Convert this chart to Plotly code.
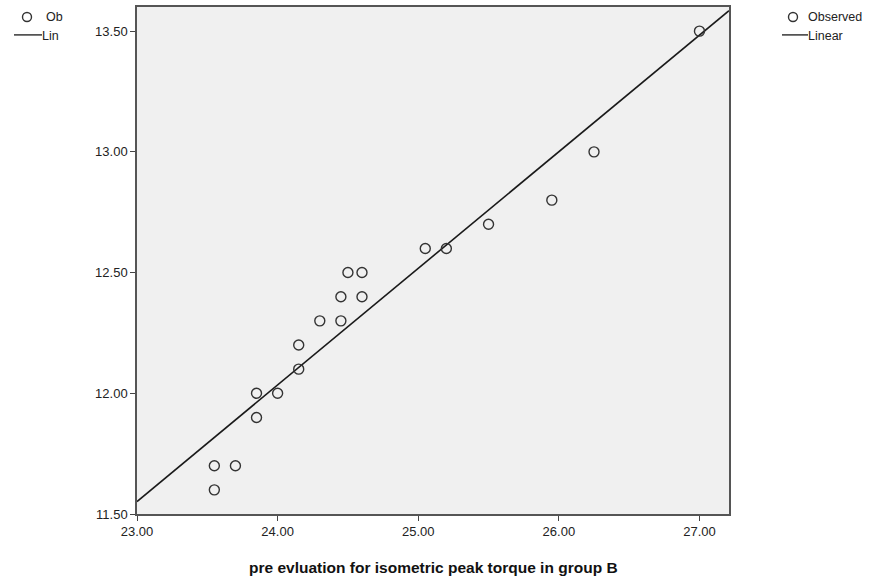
import numpy as np
import plotly.graph_objects as go

# Observed values: pre evaluation (x) vs. paired measure (y), group B
pre_torque = [23.55, 23.55, 23.70, 23.85, 23.85, 24.00, 24.15, 24.15, 24.30, 24.45,
              24.45, 24.50, 24.60, 24.60, 25.05, 25.20, 25.50, 25.95, 26.25, 27.00]
outcome = [11.70, 11.60, 11.70, 12.00, 11.90, 12.00, 12.20, 12.10, 12.30, 12.40,
           12.30, 12.50, 12.50, 12.40, 12.60, 12.60, 12.70, 12.80, 13.00, 13.50]

x_ticks = [23.0, 24.0, 25.0, 26.0, 27.0]
y_ticks = [11.5, 12.0, 12.5, 13.0, 13.5]
x_range = [23.0, 27.21]
y_range = [11.5, 13.6]

legend_labels = ["Observed", "Linear"]

# least-squares linear fit
slope, intercept = np.polyfit(pre_torque, outcome, 1)
fit_x = np.array(x_range)
fit_y = intercept + slope * fit_x

W, H = 896, 585
L, R, T, B = 137, 167, 5, 71
pw, ph = W - L - R, H - T - B

def px(xp):
    return (xp - L) / pw

def py(yp):
    return (H - B - yp) / ph

INK = "#333333"
FONT = "Liberation Sans, Arial, sans-serif"

fig = go.Figure()
fig.add_trace(go.Scatter(
    x=fit_x, y=fit_y, mode="lines",
    line=dict(color="#1a1a1a", width=1.6),
    name=legend_labels[1], showlegend=False, hoverinfo="skip"))
fig.add_trace(go.Scatter(
    x=pre_torque, y=outcome, mode="markers",
    marker=dict(symbol="circle-open", size=10, color=INK, line=dict(width=1.4, color=INK)),
    name=legend_labels[0], showlegend=False))

shapes = []
annotations = []

def legend_block(cx, lx0, lx1, tx_obs, tx_lin, obs_text, lin_text):
    # open circle for the observed series
    shapes.append(dict(type="circle", xref="paper", yref="paper",
                       xsizemode="pixel", ysizemode="pixel",
                       xanchor=px(cx), yanchor=py(15),
                       x0=-4.5, x1=4.5, y0=-4.5, y1=4.5,
                       line=dict(color=INK, width=1.4)))
    # short line for the linear fit
    shapes.append(dict(type="line", xref="paper", yref="paper",
                       x0=px(lx0), x1=px(lx1), y0=py(33), y1=py(33),
                       line=dict(color="#444444", width=1.6)))
    annotations.append(dict(text=obs_text, xref="paper", yref="paper",
                            x=px(tx_obs), y=py(15), xanchor="left", yanchor="middle",
                            showarrow=False, font=dict(size=12.5, color="#222", family=FONT)))
    annotations.append(dict(text=lin_text, xref="paper", yref="paper",
                            x=px(tx_lin), y=py(34), xanchor="left", yanchor="middle",
                            showarrow=False, font=dict(size=12.5, color="#222", family=FONT)))

legend_block(793, 782, 808, 806, 806, legend_labels[0], legend_labels[1])
legend_block(27, 14, 42, 44, 40, "Ob", "Lin")

axis_common = dict(
    showgrid=False, zeroline=False, showline=True, mirror=True,
    linecolor="#555555", linewidth=1.5,
    ticks="outside", ticklen=5, tickwidth=1.2, tickcolor="#444444",
    tickformat=".2f",
    tickfont=dict(size=13, color="#222222", family=FONT),
)

fig.update_layout(
    width=W, height=H,
    margin=dict(l=L, r=R, t=T, b=B),
    paper_bgcolor="white",
    plot_bgcolor="#f0f0f0",
    xaxis=dict(range=x_range, tickvals=x_ticks, **axis_common),
    yaxis=dict(range=y_range, tickvals=y_ticks, **axis_common),
    shapes=shapes,
    annotations=annotations + [dict(
        text="<b>pre evluation for isometric peak torque in group B</b>",
        xref="paper", yref="paper", x=0.5, y=py(568), xanchor="center", yanchor="middle",
        showarrow=False, font=dict(size=15.5, color="#111111", family=FONT))],
)

fig.write_html("out.html")
